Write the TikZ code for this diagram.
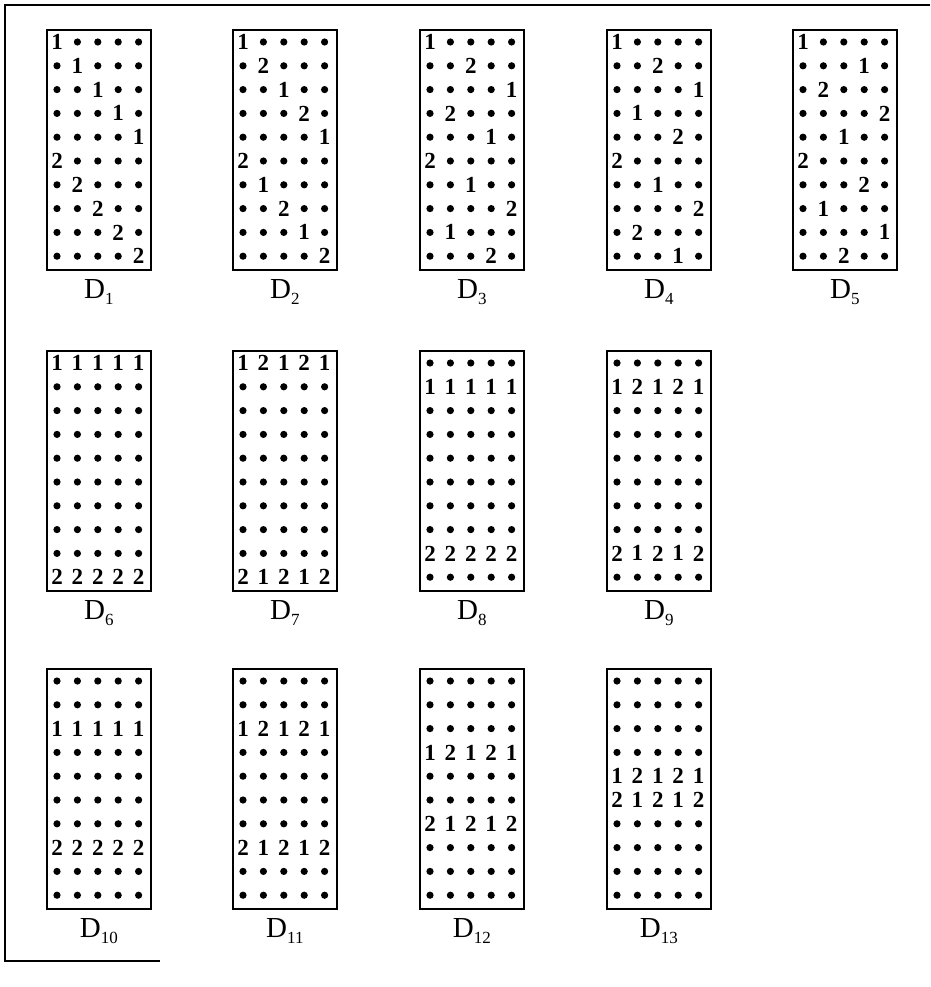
\documentclass[tikz,border=0pt]{standalone}
\usepackage{fontspec}
\setmainfont{Liberation Serif}
\usetikzlibrary{
    positioning,                      % below=of
    calc                              % coordinate arithmetic
}
\tikzset{
    panel/.style={
        rectangle, draw, line width=1.8pt,
        minimum width=104pt, minimum height=240pt,
        anchor=north west, inner sep=0pt
    },
    spot/.style={
        circle, fill, inner sep=0pt, minimum size=7.2pt
    },
    entry/.style={
        font=\fontsize{23}{23}\selectfont\bfseries, inner sep=0pt
    },
    caption/.style={
        font=\fontsize{29}{29}\selectfont, inner sep=0pt
    },
    frame/.style={
        line width=1.6pt
    }
}

% #1 name, #2 index, #3 left, #4 top, #5 rows
\newcommand{\design}[5]{%
    \node[panel] (#1) at (#3,#4) {};
    \foreach \row [count=\i] in {#5} {
        \foreach \val [count=\j] in \row {
            \ifnum\val=0
                \node[spot] (#1-\i-\j) at (#3+11+20.4*\j-20.4, #4+13+23.8*\i-23.8) {};
            \else
                \node[entry] (#1-\i-\j) at (#3+11+20.4*\j-20.4, #4+13+23.8*\i-23.8) {\val};
            \fi
        }
    }
    \node[caption, below=9pt of #1] (#1-lab)
        {D\raisebox{-0.45ex}{\fontsize{17}{17}\selectfont #2}};
}

\begin{document}
\begin{tikzpicture}[x=1pt, y=-1pt]
    \useasboundingbox (0,0) rectangle (930,987);
    \draw[frame] (160,961) -- (5,961) -- (5,5) -- (930,5);

    % first row
    \design{d1}{1}{46}{29}{{1,0,0,0,0},{0,1,0,0,0},{0,0,1,0,0},{0,0,0,1,0},{0,0,0,0,1},
        {2,0,0,0,0},{0,2,0,0,0},{0,0,2,0,0},{0,0,0,2,0},{0,0,0,0,2}}
    \design{d2}{2}{232}{29}{{1,0,0,0,0},{0,2,0,0,0},{0,0,1,0,0},{0,0,0,2,0},{0,0,0,0,1},
        {2,0,0,0,0},{0,1,0,0,0},{0,0,2,0,0},{0,0,0,1,0},{0,0,0,0,2}}
    \design{d3}{3}{419}{29}{{1,0,0,0,0},{0,0,2,0,0},{0,0,0,0,1},{0,2,0,0,0},{0,0,0,1,0},
        {2,0,0,0,0},{0,0,1,0,0},{0,0,0,0,2},{0,1,0,0,0},{0,0,0,2,0}}
    \design{d4}{4}{606}{29}{{1,0,0,0,0},{0,0,2,0,0},{0,0,0,0,1},{0,1,0,0,0},{0,0,0,2,0},
        {2,0,0,0,0},{0,0,1,0,0},{0,0,0,0,2},{0,2,0,0,0},{0,0,0,1,0}}
    \design{d5}{5}{792}{29}{{1,0,0,0,0},{0,0,0,1,0},{0,2,0,0,0},{0,0,0,0,2},{0,0,1,0,0},
        {2,0,0,0,0},{0,0,0,2,0},{0,1,0,0,0},{0,0,0,0,1},{0,0,2,0,0}}

    % second row
    \design{d6}{6}{46}{350}{{1,1,1,1,1},{0,0,0,0,0},{0,0,0,0,0},{0,0,0,0,0},{0,0,0,0,0},
        {0,0,0,0,0},{0,0,0,0,0},{0,0,0,0,0},{0,0,0,0,0},{2,2,2,2,2}}
    \design{d7}{7}{232}{350}{{1,2,1,2,1},{0,0,0,0,0},{0,0,0,0,0},{0,0,0,0,0},{0,0,0,0,0},
        {0,0,0,0,0},{0,0,0,0,0},{0,0,0,0,0},{0,0,0,0,0},{2,1,2,1,2}}
    \design{d8}{8}{419}{350}{{0,0,0,0,0},{1,1,1,1,1},{0,0,0,0,0},{0,0,0,0,0},{0,0,0,0,0},
        {0,0,0,0,0},{0,0,0,0,0},{0,0,0,0,0},{2,2,2,2,2},{0,0,0,0,0}}
    \design{d9}{9}{606}{350}{{0,0,0,0,0},{1,2,1,2,1},{0,0,0,0,0},{0,0,0,0,0},{0,0,0,0,0},
        {0,0,0,0,0},{0,0,0,0,0},{0,0,0,0,0},{2,1,2,1,2},{0,0,0,0,0}}

    % third row
    \design{d10}{10}{46}{668}{{0,0,0,0,0},{0,0,0,0,0},{1,1,1,1,1},{0,0,0,0,0},{0,0,0,0,0},
        {0,0,0,0,0},{0,0,0,0,0},{2,2,2,2,2},{0,0,0,0,0},{0,0,0,0,0}}
    \design{d11}{11}{232}{668}{{0,0,0,0,0},{0,0,0,0,0},{1,2,1,2,1},{0,0,0,0,0},{0,0,0,0,0},
        {0,0,0,0,0},{0,0,0,0,0},{2,1,2,1,2},{0,0,0,0,0},{0,0,0,0,0}}
    \design{d12}{12}{419}{668}{{0,0,0,0,0},{0,0,0,0,0},{0,0,0,0,0},{1,2,1,2,1},{0,0,0,0,0},
        {0,0,0,0,0},{2,1,2,1,2},{0,0,0,0,0},{0,0,0,0,0},{0,0,0,0,0}}
    \design{d13}{13}{606}{668}{{0,0,0,0,0},{0,0,0,0,0},{0,0,0,0,0},{0,0,0,0,0},{1,2,1,2,1},
        {2,1,2,1,2},{0,0,0,0,0},{0,0,0,0,0},{0,0,0,0,0},{0,0,0,0,0}}
\end{tikzpicture}
\end{document}
